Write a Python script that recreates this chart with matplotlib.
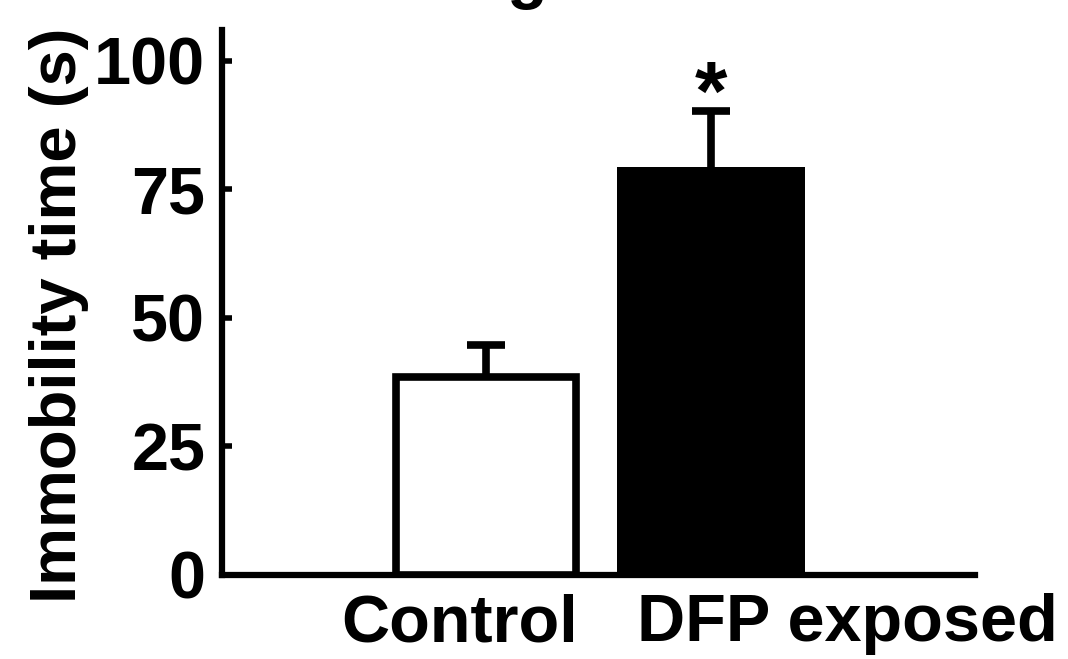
import numpy as np
import matplotlib
matplotlib.use("Agg")
import matplotlib.pyplot as plt

groups = ["Control", "DFP exposed"]
means = [38.5, 79.3]
sems = [6.2, 11.0]
stars = ["", "*"]
yticks = [0, 25, 50, 75, 100]

plt.rcParams['font.family'] = ['Liberation Sans', 'DejaVu Sans']
plt.rcParams['font.weight'] = 'bold'

fig = plt.figure(figsize=(10.68, 6.59), dpi=100)
ax = fig.add_axes([0.2079, 0.1275, 0.913 - 0.2079, 0.9545 - 0.1275])

x = np.array([1, 2])
lw = 5.5
ax.bar(x[0], means[0], width=0.8, color='white', edgecolor='black', linewidth=lw, zorder=3)
ax.bar(x[1], means[1], width=0.835, color='black', edgecolor='black', linewidth=0, zorder=3)
# upper error bars only
ax.errorbar(x, np.array(means) + np.array(sems), yerr=[sems, np.zeros(2)], fmt='none',
            ecolor='black', elinewidth=lw, capsize=0, zorder=2)
ax.errorbar(x, np.array(means) + np.array(sems), fmt='none', xerr=0.085,
            ecolor='black', elinewidth=lw, capsize=0, zorder=2)
for xi, m, s, st in zip(x, means, sems, stars):
    if st:
        ax.text(xi, m + s + 10, st, ha='center', va='top', fontsize=60, fontweight='bold')

ax.set_xlim(-0.173, 3.173)
ax.set_ylim(0, 106)
ax.set_yticks(yticks)
ax.set_yticklabels([str(t) for t in yticks], fontsize=48, fontweight='bold')
ax.set_xticks([0.884, 2.604])
ax.set_xticklabels(groups, fontsize=48, fontweight='bold')
ax.tick_params(axis='x', length=0, pad=13)
ax.tick_params(axis='y', direction='in', length=7, width=4, pad=12)

for side in ['top', 'right']:
    ax.spines[side].set_visible(False)
for side in ['left', 'bottom']:
    ax.spines[side].set_linewidth(4.5)

ax.set_ylabel("Immobility time (s)", fontsize=47, fontweight='bold')
ax.yaxis.set_label_coords(-0.177, 0.477)

fig.text(0.493, 1.006, "g", ha='center', va='baseline', fontsize=48, fontweight='bold')

fig.savefig("out.png", dpi=100)
